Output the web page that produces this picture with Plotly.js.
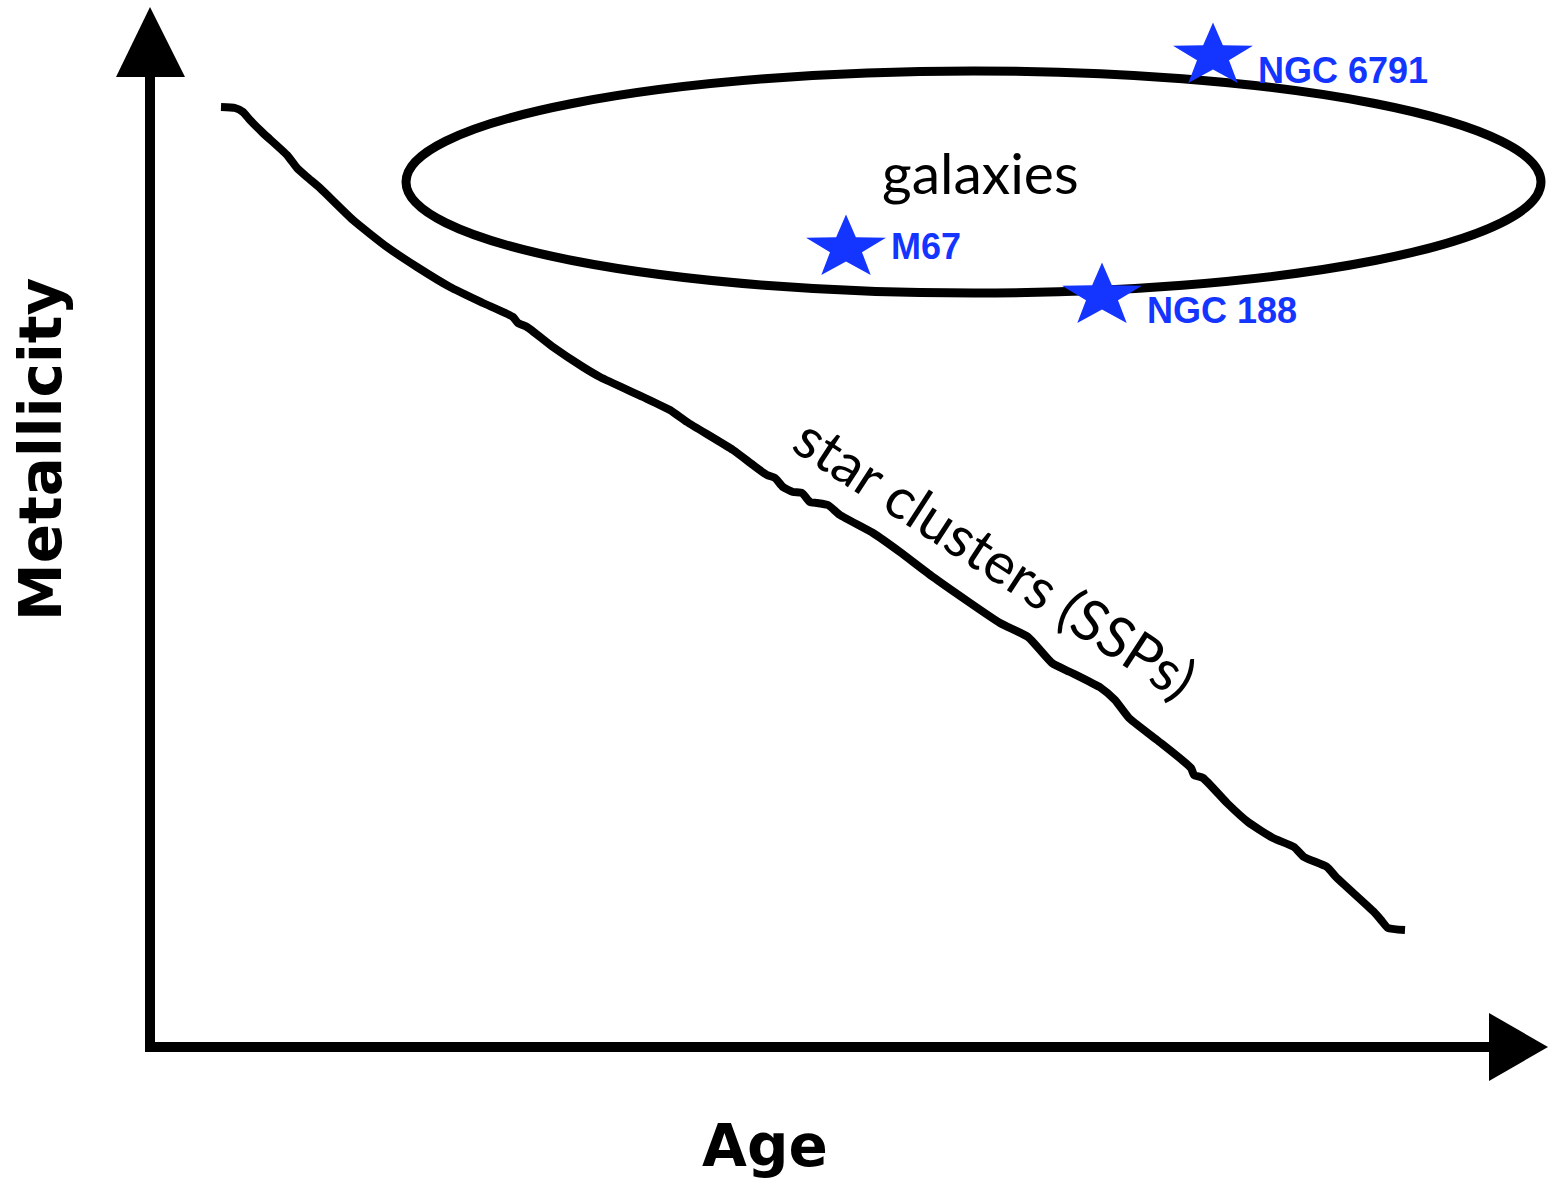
<!DOCTYPE html>
<html>
<head>
<meta charset="utf-8">
<script src="https://cdn.plot.ly/plotly-3.0.1.min.js"></script>
<style>
  html, body { margin: 0; padding: 0; background: #fff; }
  #chart { width: 1548px; height: 1180px; }
</style>
</head>
<body>
<div id="chart"></div>
<script>
// Star cluster (SSP) sequence, age vs metallicity, arbitrary units (origin at axes corner)
const clusterAge = [71, 85, 93, 100, 113, 137, 147, 157, 170, 203, 237, 267, 300, 333, 363, 368, 377,
  403, 433, 450, 493, 520, 537, 583, 603, 617, 625, 633, 643, 652, 660, 667, 678, 690, 723, 750,
  783, 850, 878, 902, 920, 951, 965, 979, 1007, 1041, 1044, 1053, 1077, 1098, 1123, 1144, 1154,
  1177, 1186, 1224, 1231, 1238, 1255];
const clusterZ = [940, 939, 935, 927, 914, 892, 879, 870, 859, 827, 800, 780, 760, 744, 730, 724, 720,
  700, 680, 670, 650, 637, 625, 597, 582, 572, 569, 560, 555, 554, 545, 544, 542, 532, 514, 495,
  470, 424, 410, 384, 375, 359, 347, 329, 307, 279, 272, 269, 244, 225, 209, 200, 190,
  180, 170, 135, 127, 119, 117];

// Galaxy region (ellipse bounds)
const galaxyAge = [256, 1391];
const galaxyZ = [754, 976];

// Individual old open clusters
const ocNames = ["NGC 6791", "M67", "NGC 188"];
const ocAge = [1063, 696, 952];
const ocZ = [991, 799, 751];

const BLUE = "#1434ff";

// stretched five-point star outline around a centre
function starOutline(cx, cy, rx, ry) {
  const xs = [], ys = [];
  for (let k = 0; k <= 10; k++) {
    const a = Math.PI / 2 - (k * Math.PI) / 5;
    const r = k % 2 === 0 ? 1 : 0.4;
    xs.push(cx + rx * r * Math.cos(a));
    ys.push(cy + ry * r * Math.sin(a));
  }
  return { xs, ys };
}

const traces = [
  {
    x: clusterAge,
    y: clusterZ,
    type: "scatter",
    mode: "lines",
    line: { color: "#000", width: 8, shape: "spline", smoothing: 0.5 },
    hoverinfo: "skip",
  },
];

ocNames.forEach((name, i) => {
  const s = starOutline(ocAge[i], ocZ[i], 42, 33.5);
  traces.push({
    x: s.xs,
    y: s.ys,
    type: "scatter",
    mode: "lines",
    fill: "toself",
    fillcolor: BLUE,
    line: { color: BLUE, width: 0 },
    hoverinfo: "skip",
    name: name,
  });
});

const labelShiftY = [-14, 2, -14];

const annotations = [
  {
    x: 830, y: 875, text: "galaxies", showarrow: false,
    font: { family: "Lato", size: 57, color: "#000" },
  },
  {
    x: 846, y: 490, text: "star clusters (SSPs)", showarrow: false, textangle: 33,
    font: { family: "Lato", size: 57, color: "#000" },
  },
  {
    x: -109, y: 597, text: "<b>Metallicity</b>", showarrow: false, textangle: -90,
    font: { family: "DejaVu Sans", size: 58, color: "#000" },
  },
  {
    x: 615, y: -99, text: "<b>Age</b>", showarrow: false,
    font: { family: "DejaVu Sans", size: 58, color: "#000" },
  },
];

ocNames.forEach((name, i) => {
  annotations.push({
    x: ocAge[i], y: ocZ[i], text: "<b>" + name + "</b>", showarrow: false,
    xanchor: "left", yanchor: "middle", xshift: 43, yshift: labelShiftY[i],
    font: { family: "Liberation Sans", size: 36, color: BLUE },
  });
});

const shapes = [
  // galaxies
  {
    type: "circle", xref: "x", yref: "y", layer: "below",
    x0: galaxyAge[0], x1: galaxyAge[1], y0: galaxyZ[0], y1: galaxyZ[1],
    line: { color: "#000", width: 9 },
  },
  // axes
  { type: "line", x0: 0, x1: 0, y0: -4, y1: 975, line: { color: "#000", width: 10 } },
  { type: "line", x0: -5, x1: 1345, y0: 0, y1: 0, line: { color: "#000", width: 10 } },
  { type: "path", path: "M -34 970 L 35 970 L 0 1040 Z", fillcolor: "#000", line: { width: 0 } },
  { type: "path", path: "M 1339 34 L 1339 -34 L 1398 0 Z", fillcolor: "#000", line: { width: 0 } },
];

const layout = {
  width: 1548,
  height: 1180,
  margin: { l: 0, r: 0, t: 0, b: 0 },
  paper_bgcolor: "#fff",
  plot_bgcolor: "rgba(0,0,0,0)",
  showlegend: false,
  xaxis: { range: [-150, 1398], visible: false, fixedrange: true },
  yaxis: { range: [-133, 1047], visible: false, fixedrange: true },
  shapes: shapes,
  annotations: annotations,
};

Plotly.newPlot("chart", traces, layout, { displayModeBar: false, staticPlot: true });
</script>
</body>
</html>
